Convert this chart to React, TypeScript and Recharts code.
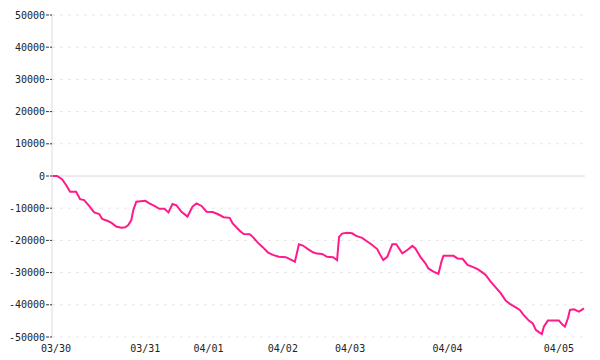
import React from "react";
import {
  LineChart,
  Line,
  XAxis,
  YAxis,
  CartesianGrid,
  ReferenceLine,
} from "recharts";

// time position (sample steps since start) and running value
const steps = [
  0, 5, 10, 14, 18, 24, 28, 32, 37, 42, 47, 50, 55, 59, 64, 69, 73, 76, 79, 81,
  84, 93, 97, 102, 107, 112, 116, 120, 124, 129, 135, 140, 144, 149, 154, 160,
  165, 171, 177, 180, 187, 191, 197, 200, 205, 210, 215, 220, 226, 233, 237,
  242, 246, 250, 255, 260, 264, 269, 274, 280, 284, 286, 289, 294, 299, 303,
  309, 313, 318, 324, 327, 330, 334, 339, 343, 349, 354, 359, 362, 367, 372,
  375, 380, 385, 388, 390, 400, 404, 409, 414, 419, 424, 429, 432, 437, 442,
  447, 452, 457, 462, 466, 470, 475, 479, 482, 485, 488, 490, 494, 505, 509,
  511, 514, 516, 520, 525, 530,
];

const values = [
  0, 0, -1000, -2800, -4900, -4900, -7200, -7500, -9300, -11300, -11800,
  -13300, -13900, -14500, -15700, -16100, -15900, -15200, -13700, -10600,
  -8000, -7700, -8500, -9300, -10200, -10200, -11300, -8700, -9100, -11100,
  -12600, -9500, -8500, -9300, -11100, -11200, -11800, -12800, -13000, -14700,
  -17000, -18000, -18100, -18900, -20700, -22100, -23700, -24500, -25100,
  -25200, -25800, -26600, -21200, -21600, -22700, -23700, -24100, -24200,
  -25100, -25200, -26100, -18900, -17900, -17600, -17800, -18600, -19200,
  -20100, -21200, -22700, -24500, -26100, -25100, -21200, -21200, -24000,
  -23000, -21700, -22500, -25100, -27100, -28700, -29700, -30400, -26600,
  -24800, -24800, -25600, -25700, -27600, -28200, -28900, -30000, -30700,
  -32800, -34600, -36400, -38700, -39900, -40800, -41600, -43200, -44900,
  -45800, -47800, -48500, -49100, -46800, -44900, -44900, -46300, -46800,
  -44200, -41600, -41400, -42100, -41100,
];

const dayTicks = [4, 93, 156, 230, 297, 394, 505];
const dayLabels = ["03/30", "03/31", "04/01", "04/02", "04/03", "04/04", "04/05"];

const yTicks = [
  -50000, -40000, -30000, -20000, -10000, 0, 10000, 20000, 30000, 40000, 50000,
];

const data = steps.map((t, i) => ({ t, v: values[i] }));

const tickFont = { fontSize: 10, fill: "#222", fontFamily: "DejaVu Sans Mono" };

export default function App() {
  return (
    <div style={{ width: 600, height: 360 }}>
      <style>{"body{margin:0}"}</style>
      <LineChart
        width={600}
        height={360}
        data={data}
        margin={{ top: 15, right: 15, bottom: 0, left: 0 }}
      >
        <CartesianGrid vertical={false} stroke="#e6e6e6" strokeDasharray="3 5" />
        <ReferenceLine y={0} stroke="#dcdcdc" strokeWidth={1} />
        <XAxis
          dataKey="t"
          type="number"
          domain={[0, 531]}
          ticks={dayTicks}
          tickFormatter={(t: number) => dayLabels[dayTicks.indexOf(t)] ?? ""}
          axisLine={false}
          tickLine={false}
          tickSize={6}
          tickMargin={2}
          height={23}
          tick={tickFont}
          interval={0}
        />
        <YAxis
          type="number"
          domain={[-50000, 50000]}
          ticks={yTicks}
          width={52}
          axisLine={{ stroke: "#dcdcdc" }}
          tickLine={{ stroke: "#333", strokeDasharray: "3 1" }}
          tickSize={6}
          tickMargin={1}
          tick={tickFont}
          interval={0}
        />
        <Line
          type="linear"
          dataKey="v"
          stroke="#ff1a8c"
          strokeWidth={2}
          dot={false}
          isAnimationActive={false}
        />
      </LineChart>
    </div>
  );
}
